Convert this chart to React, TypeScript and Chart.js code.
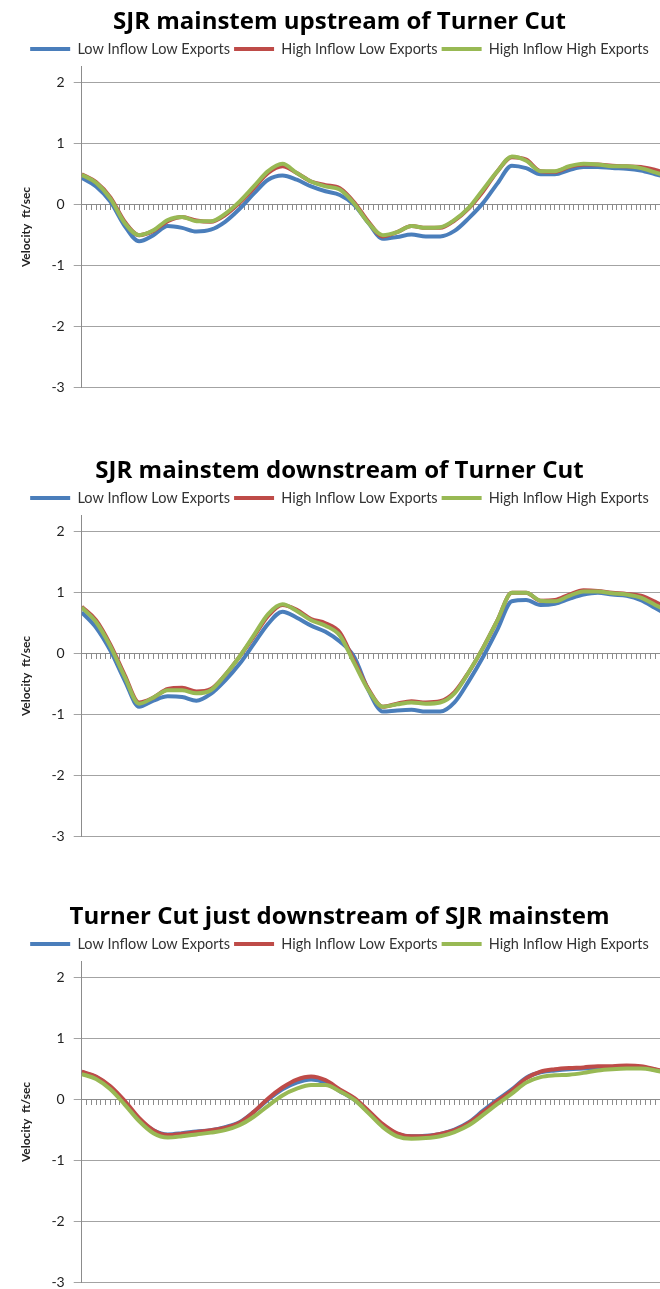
import React, { useEffect, useRef } from "react";
import { Chart, registerables } from "chart.js";

Chart.register(...registerables);

// ---- data ----
const SERIES_NAMES = ["Low Inflow Low Exports", "High Inflow Low Exports", "High Inflow High Exports"];
const SERIES_COLORS = ["#4A7EBB", "#BE4B48", "#98B954"];
const CHART_TITLES = [
  "SJR mainstem upstream of Turner Cut",
  "SJR mainstem downstream of Turner Cut",
  "Turner Cut just downstream of SJR mainstem",
];
const Y_AXIS_TITLE = "Velocity  ft/sec";

// time step index of each reading
const TIME_STEPS = [0, 3, 6, 9, 12, 15, 18, 21, 24, 27, 30, 33, 36, 39, 42, 45, 48, 51, 54, 57, 60, 63, 66, 69, 72, 75, 78, 81, 84, 87, 90, 93, 96, 99, 102, 105, 108, 111, 114, 117, 120, 123];

// SJR mainstem upstream of Turner Cut
const UP_LOW_LOW = [0.44, 0.3, 0.05, -0.35, -0.6, -0.5, -0.35, -0.38, -0.44, -0.41, -0.28, -0.07, 0.18, 0.41, 0.48, 0.41, 0.3, 0.22, 0.16, 0.0, -0.3, -0.56, -0.53, -0.49, -0.52, -0.52, -0.43, -0.22, 0.03, 0.35, 0.64, 0.6, 0.5, 0.5, 0.57, 0.62, 0.62, 0.6, 0.59, 0.56, 0.5, 0.44];
const UP_HIGH_LOW = [0.5, 0.37, 0.12, -0.28, -0.5, -0.43, -0.27, -0.2, -0.26, -0.28, -0.17, 0.03, 0.27, 0.52, 0.63, 0.52, 0.38, 0.32, 0.27, 0.04, -0.28, -0.52, -0.45, -0.35, -0.38, -0.38, -0.26, -0.06, 0.22, 0.55, 0.78, 0.74, 0.55, 0.54, 0.62, 0.66, 0.66, 0.64, 0.63, 0.62, 0.57, 0.5];
const UP_HIGH_HIGH = [0.49, 0.36, 0.1, -0.3, -0.5, -0.42, -0.25, -0.2, -0.27, -0.27, -0.15, 0.05, 0.3, 0.55, 0.67, 0.52, 0.38, 0.3, 0.25, 0.02, -0.3, -0.5, -0.45, -0.35, -0.38, -0.37, -0.25, -0.05, 0.25, 0.55, 0.79, 0.72, 0.55, 0.55, 0.63, 0.67, 0.66, 0.63, 0.63, 0.6, 0.53, 0.46];

// SJR mainstem downstream of Turner Cut
const DOWN_LOW_LOW = [0.68, 0.43, 0.05, -0.44, -0.87, -0.77, -0.7, -0.71, -0.77, -0.66, -0.44, -0.17, 0.16, 0.49, 0.69, 0.59, 0.46, 0.36, 0.2, -0.05, -0.6, -0.95, -0.93, -0.92, -0.95, -0.95, -0.8, -0.45, -0.05, 0.4, 0.86, 0.88, 0.8, 0.82, 0.9, 0.97, 1.0, 0.97, 0.95, 0.88, 0.75, 0.62];
const DOWN_HIGH_LOW = [0.77, 0.55, 0.15, -0.35, -0.8, -0.72, -0.58, -0.56, -0.62, -0.58, -0.35, -0.05, 0.28, 0.62, 0.8, 0.72, 0.57, 0.5, 0.35, -0.12, -0.58, -0.87, -0.82, -0.78, -0.8, -0.78, -0.63, -0.3, 0.1, 0.55, 1.0, 1.0, 0.87, 0.88, 0.97, 1.04, 1.03, 1.0, 0.98, 0.95, 0.85, 0.72];
const DOWN_HIGH_HIGH = [0.76, 0.52, 0.12, -0.38, -0.82, -0.72, -0.6, -0.6, -0.65, -0.6, -0.35, -0.05, 0.3, 0.65, 0.81, 0.7, 0.55, 0.46, 0.3, -0.15, -0.6, -0.87, -0.83, -0.8, -0.82, -0.8, -0.65, -0.3, 0.1, 0.55, 1.0, 1.0, 0.87, 0.86, 0.95, 1.02, 1.02, 0.99, 0.97, 0.92, 0.8, 0.68];

// Turner Cut just downstream of SJR mainstem
const CUT_LOW_LOW = [0.45, 0.37, 0.2, -0.04, -0.32, -0.5, -0.57, -0.55, -0.52, -0.5, -0.45, -0.37, -0.2, 0.0, 0.17, 0.28, 0.33, 0.28, 0.14, 0.0, -0.2, -0.42, -0.56, -0.6, -0.59, -0.56, -0.49, -0.37, -0.18, 0.0, 0.17, 0.36, 0.45, 0.48, 0.5, 0.51, 0.52, 0.53, 0.54, 0.53, 0.49, 0.43];
const CUT_HIGH_LOW = [0.46, 0.38, 0.22, -0.02, -0.3, -0.5, -0.58, -0.56, -0.53, -0.5, -0.46, -0.38, -0.2, 0.02, 0.2, 0.33, 0.38, 0.32, 0.17, 0.03, -0.18, -0.4, -0.55, -0.6, -0.6, -0.56, -0.5, -0.38, -0.2, -0.02, 0.15, 0.35, 0.46, 0.5, 0.52, 0.53, 0.55, 0.55, 0.56, 0.55, 0.5, 0.44];
const CUT_HIGH_HIGH = [0.42, 0.34, 0.17, -0.08, -0.35, -0.55, -0.62, -0.6, -0.57, -0.54, -0.5, -0.42, -0.28, -0.1, 0.07, 0.18, 0.24, 0.24, 0.14, 0.0, -0.22, -0.45, -0.6, -0.64, -0.63, -0.6, -0.53, -0.42, -0.25, -0.07, 0.1, 0.28, 0.37, 0.4, 0.41, 0.44, 0.48, 0.5, 0.51, 0.51, 0.48, 0.43];

const Y_MIN = -3;
const Y_MAX = 2.27;
const X_MIN = 0;
const X_MAX = 121;

const PANELS = [
  { title: CHART_TITLES[0], series: [UP_LOW_LOW, UP_HIGH_LOW, UP_HIGH_HIGH], top: 0 },
  { title: CHART_TITLES[1], series: [DOWN_LOW_LOW, DOWN_HIGH_LOW, DOWN_HIGH_HIGH], top: 449 },
  { title: CHART_TITLES[2], series: [CUT_LOW_LOW, CUT_HIGH_LOW, CUT_HIGH_HIGH], top: 895 },
];

const FONT = "Lato, 'Open Sans', sans-serif";
const TITLE_FONT = "'Open Sans', Lato, sans-serif";
const GRID = "#a3a3a3";
const AXIS = "#8c8c8c";
const CANVAS_H = 405;

function Panel({ title, series, top }: { title: string; series: number[][]; top: number }) {
  const ref = useRef<HTMLCanvasElement | null>(null);
  useEffect(() => {
    if (!ref.current) return;
    const datasets = series.map((vals, s) => ({
      label: SERIES_NAMES[s],
      data: TIME_STEPS.map((t, k) => ({ x: t, y: vals[k] })),
      borderColor: SERIES_COLORS[s],
      backgroundColor: SERIES_COLORS[s],
      borderWidth: 4,
      pointRadius: 0,
      cubicInterpolationMode: "monotone" as const,
      order: 3 - s,
    }));
    const chart = new Chart(ref.current, {
      type: "line",
      data: { datasets },
      options: {
        animation: false,
        responsive: false,
        devicePixelRatio: 1,
        layout: { padding: { left: 19, right: 0, top: 0, bottom: 0 } },
        plugins: {
          title: {
            display: true,
            text: title,
            color: "#000",
            font: { family: TITLE_FONT, size: 24, weight: "bold" },
            padding: { top: 8, bottom: 1 },
          },
          legend: {
            display: true,
            labels: {
              usePointStyle: true,
              pointStyle: "line",
              pointStyleWidth: 40,
              color: "#333",
              font: { family: FONT, size: 14.5 },
              padding: 4,
              sort: (a: any, b: any) => a.datasetIndex - b.datasetIndex,
            },
          },
          tooltip: { enabled: false },
        },
        scales: {
          x: {
            type: "linear",
            min: X_MIN,
            max: X_MAX,
            position: { y: 0 } as any,
            ticks: { display: false, stepSize: 1 },
            grid: { drawOnChartArea: false, drawTicks: true, tickLength: 5, color: AXIS },
            border: { color: AXIS, width: 1 },
          },
          y: {
            type: "linear",
            min: Y_MIN,
            max: Y_MAX,
            ticks: {
              stepSize: 1,
              includeBounds: false,
              color: "#222",
              padding: 9,
              font: { family: FONT, size: 14 },
            },
            grid: { color: GRID, tickLength: 8, lineWidth: 1 },
            border: { color: AXIS, width: 1 },
            title: {
              display: true,
              text: Y_AXIS_TITLE,
              color: "#222",
              font: { family: FONT, size: 12, weight: "bold" },
              padding: { top: 0, bottom: 9 },
            },
          },
        },
      },
    });
    return () => chart.destroy();
  }, [title, series]);
  return (
    <div style={{ position: "absolute", left: 0, top, width: 660, height: CANVAS_H }}>
      <canvas ref={ref} width={660} height={CANVAS_H} style={{ display: "block", width: 660, height: CANVAS_H }} />
    </div>
  );
}

export default function App() {
  return (
    <div
      style={{
        position: "fixed",
        left: 0,
        top: 0,
        width: 660,
        height: 1289,
        overflow: "hidden",
        background: "#fff",
      }}
    >
      {PANELS.map((p, i) => (
        <Panel key={i} title={p.title} series={p.series} top={p.top} />
      ))}
    </div>
  );
}
